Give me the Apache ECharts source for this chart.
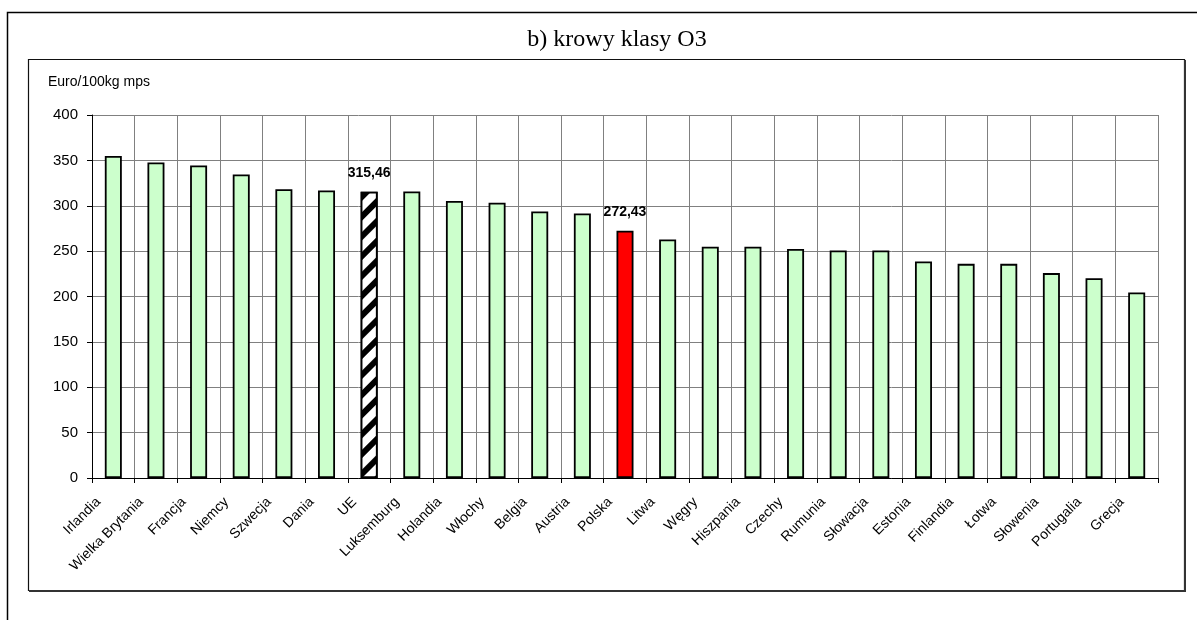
<!DOCTYPE html>
<html>
<head>
<meta charset="utf-8">
<script src="https://cdn.jsdelivr.net/npm/echarts@6/dist/echarts.min.js"></script>
<style>
html,body{margin:0;padding:0;background:#fff;}
#c{width:1197px;height:620px;}
</style>
</head>
<body>
<div id="c"></div>
<script>
const titleText = 'b) krowy klasy O3';
const unitText = 'Euro/100kg mps';
const categories = ['Irlandia','Wielka Brytania','Francja','Niemcy','Szwecja','Dania','UE','Luksemburg','Holandia','Włochy','Belgia','Austria','Polska','Litwa','Węgry','Hiszpania','Czechy','Rumunia','Słowacja','Estonia','Finlandia','Łotwa','Słowenia','Portugalia','Grecja'];
const values = [354.8, 347.6, 344.3, 334.5, 318.2, 316.8, 315.46, 315.7, 305.2, 303.4, 293.6, 291.4, 272.43, 262.8, 254.8, 254.8, 252.3, 250.8, 250.8, 238.5, 236.0, 236.0, 225.8, 220.1, 204.5];
const yMin = 0, yMax = 400, yStep = 50;
const euIndex = categories.indexOf('UE');
const plIndex = categories.indexOf('Polska');

const chart = echarts.init(document.getElementById('c'), null, {renderer:'canvas'});

const data = values.map((v, i) => {
  const item = { value: v };
  if (i === euIndex) {
    item.itemStyle = {
      color: '#ffffff',
      decal: {
        symbol: 'rect', symbolSize: 1, color: '#000000', backgroundColor: '#ffffff',
        dashArrayX: [1, 0], dashArrayY: [6, 8], rotation: -Math.PI / 4
      }
    };
    item.label = { show: true };
  } else if (i === plIndex) {
    item.itemStyle = { color: '#ff0000' };
    item.label = { show: true };
  }
  return item;
});

const option = {
  backgroundColor: '#ffffff',
  animation: false,
  title: {
    text: titleText, left: 612, top: 35, textAlign: 'center', textVerticalAlign: 'middle',
    textStyle: { fontFamily: 'Liberation Serif', fontSize: 24, fontWeight: 'normal', color: '#000' }
  },
  graphic: [
    { type: 'rect', shape: { x: 7.5, y: 12.5, width: 1220, height: 640 }, style: { fill: 'none', stroke: '#000', lineWidth: 1.5 }, silent: true },
    { type: 'rect', shape: { x: 28.5, y: 59.5, width: 1156, height: 531 }, style: { fill: 'none', stroke: '#111', lineWidth: 1.2 }, silent: true },
    { type: 'polyline', shape: { points: [[1185, 60], [1185, 591], [29, 591]] }, style: { fill: 'none', stroke: '#333', lineWidth: 2 }, silent: true },
    { type: 'text', left: 48, top: 75, style: { text: unitText, fontFamily: 'Liberation Sans', fontSize: 14, fill: '#000' }, silent: true }
  ],
  grid: { left: 92, right: 39, top: 115, bottom: 142, containLabel: false },
  xAxis: {
    type: 'category',
    data: categories,
    boundaryGap: true,
    axisLine: { show: true, lineStyle: { color: '#000', width: 1 } },
    axisTick: { show: true, length: 5, alignWithLabel: false, lineStyle: { color: '#000' } },
    splitLine: { show: true, lineStyle: { color: '#808080', width: 1 } },
    axisLabel: {
      interval: 0, rotate: 45, margin: 7, padding: [0, 21, 0, 0],
      fontFamily: 'Liberation Sans', fontSize: 14, color: '#000'
    }
  },
  yAxis: {
    type: 'value', min: yMin, max: yMax, interval: yStep,
    axisLine: { show: true, lineStyle: { color: '#000', width: 1 } },
    axisTick: { show: true, length: 5, lineStyle: { color: '#000' } },
    splitLine: { show: true, lineStyle: { color: '#808080', width: 1 } },
    axisLabel: { margin: 14, fontFamily: 'Liberation Sans', fontSize: 15, color: '#000' }
  },
  series: [{
    type: 'bar',
    data: data,
    barWidth: 17,
    itemStyle: { color: '#ccffcc', borderColor: '#000', borderWidth: 1.8 },
    label: {
      show: false, position: 'top', distance: 12,
      formatter: p => p.value.toFixed(2).replace('.', ','),
      fontFamily: 'Liberation Sans', fontSize: 14, fontWeight: 'bold', color: '#000'
    }
  }]
};
chart.setOption(option);
</script>
</body>
</html>
